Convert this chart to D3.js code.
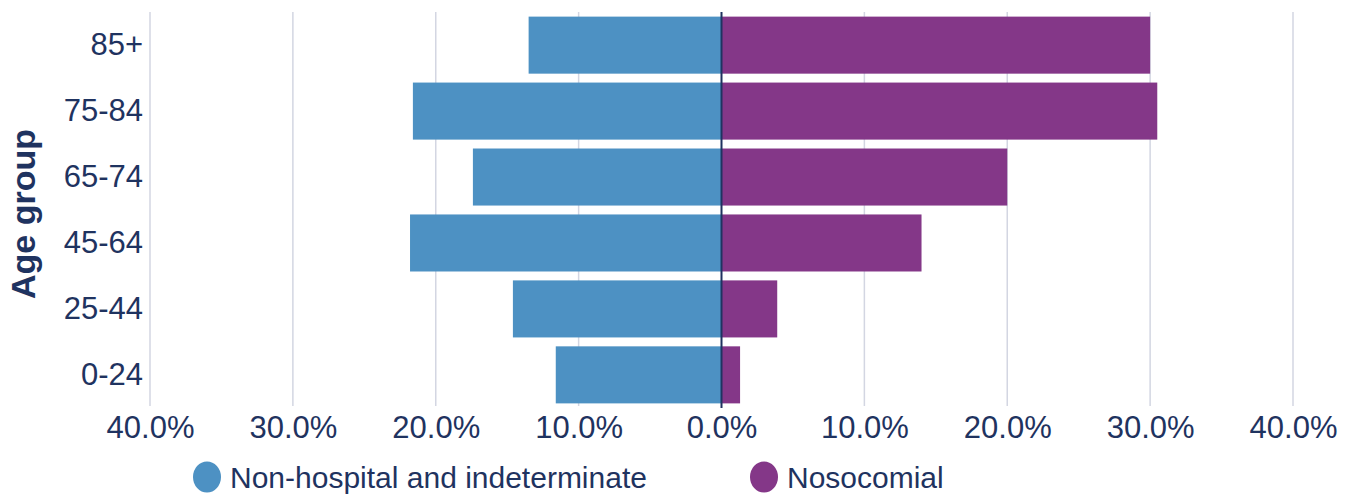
<!DOCTYPE html>
<html>
<head>
<meta charset="utf-8">
<script src="https://cdn.jsdelivr.net/npm/d3@7"></script>
<style>
  html, body { margin: 0; padding: 0; background: #fff; }
  svg { display: block; font-family: "Liberation Sans", Arial, sans-serif; }
</style>
</head>
<body>
<svg id="chart" width="1355" height="494"></svg>
<script>
// Age groups, top to bottom
const ageGroups = ["85+", "75-84", "65-74", "45-64", "25-44", "0-24"];
// Share of cases (%) in each age group
const nonHospital = [13.5, 21.6, 17.4, 21.8, 14.6, 11.6];
const nosocomial  = [30.0, 30.5, 20.0, 14.0, 3.9, 1.3];
const seriesNames = ["Non-hospital and indeterminate", "Nosocomial"];
const seriesColors = ["#4d91c3", "#843788"];
const xTicks = [-40, -30, -20, -10, 0, 10, 20, 30, 40];

const textColor = "#1f3360";
const svg = d3.select("#chart");

const x = d3.scaleLinear().domain([-40, 40]).range([150, 1293]);
const y = d3.scaleBand().domain(ageGroups).range([12, 408]).paddingInner(0.135).paddingOuter(0.07);

// vertical gridlines
svg.append("g").selectAll("line")
  .data(xTicks.filter(d => d !== 0))
  .join("line")
  .attr("x1", d => x(d)).attr("x2", d => x(d))
  .attr("y1", 12).attr("y2", 406)
  .attr("stroke", "#d3d6e2").attr("stroke-width", 1.5);

// left-hand bars (non-hospital)
svg.append("g").selectAll("rect")
  .data(ageGroups.map((g, i) => ({ g, v: nonHospital[i] })))
  .join("rect")
  .attr("x", d => x(-d.v)).attr("width", d => x(0) - x(-d.v))
  .attr("y", d => y(d.g)).attr("height", y.bandwidth())
  .attr("fill", seriesColors[0]);

// right-hand bars (nosocomial)
svg.append("g").selectAll("rect")
  .data(ageGroups.map((g, i) => ({ g, v: nosocomial[i] })))
  .join("rect")
  .attr("x", x(0)).attr("width", d => x(d.v) - x(0))
  .attr("y", d => y(d.g)).attr("height", y.bandwidth())
  .attr("fill", seriesColors[1]);

// zero line
svg.append("line")
  .attr("x1", x(0)).attr("x2", x(0))
  .attr("y1", 12).attr("y2", 408)
  .attr("stroke", textColor).attr("stroke-width", 2);

// x axis tick labels
const xAxis = d3.axisBottom(x).tickValues(xTicks)
  .tickSize(0).tickPadding(0)
  .tickFormat(d => Math.abs(d).toFixed(1) + "%");
const gx = svg.append("g").attr("transform", "translate(0,416)").call(xAxis);
gx.select(".domain").remove();
gx.selectAll("text").attr("fill", textColor).attr("font-size", 31).attr("font-family", "Liberation Sans, Arial, sans-serif");

// y axis category labels
const yAxis = d3.axisLeft(y).tickSize(0).tickPadding(0);
const gy = svg.append("g").attr("transform", "translate(143,0)").call(yAxis);
gy.select(".domain").remove();
gy.selectAll("text").attr("fill", textColor).attr("font-size", 31).attr("font-family", "Liberation Sans, Arial, sans-serif");

// y axis title
svg.append("text")
  .attr("transform", `translate(35,214) rotate(-90)`)
  .attr("text-anchor", "middle")
  .attr("fill", textColor).attr("font-size", 34).attr("font-weight", "bold")
  .text("Age group");

// legend
const legendX = [207, 764];
const legend = svg.append("g").selectAll("g")
  .data(seriesNames)
  .join("g")
  .attr("transform", (d, i) => `translate(${legendX[i]},477)`);
legend.append("ellipse").attr("rx", 14).attr("ry", 15.5).attr("fill", (d, i) => seriesColors[i]);
legend.append("text")
  .attr("x", 23).attr("dy", "0.36em")
  .attr("fill", textColor).attr("font-size", 30)
  .text(d => d);
</script>
</body>
</html>
